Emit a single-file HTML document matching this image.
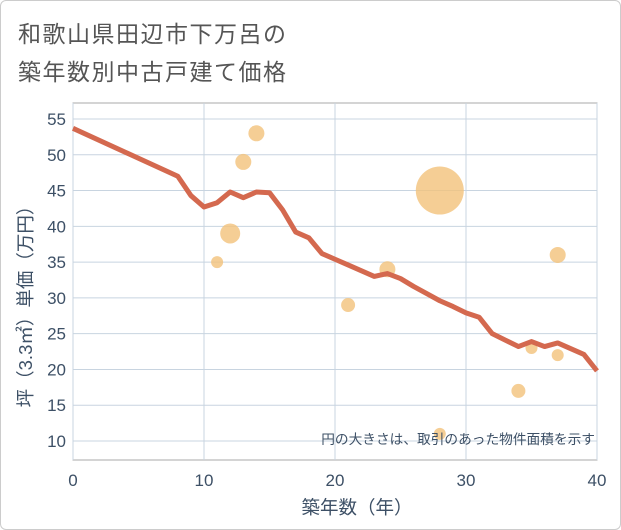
<!DOCTYPE html>
<html><head><meta charset="utf-8"><style>
body{margin:0;background:#fff;font-family:"Liberation Sans","Noto Sans CJK JP",sans-serif;}
#wrap{position:relative;width:619px;height:528px;border:1px solid #ccc;border-radius:6px;background:#fff;}
.t{position:absolute;left:17px;font-size:23px;color:#555;letter-spacing:1.5px}
</style></head><body>
<div id="wrap">
<div class="t" style="top:14px">和歌山県田辺市下万呂の</div>
<div class="t" style="top:52px">築年数別中古戸建て価格</div>
<svg id="c" width="621" height="530" style="position:absolute;left:-1px;top:-1px"></svg>
</div>
<script>
const lineYears=[0,8,9,10,11,12,13,14,15,16,17,18,19,20,21,22,23,24,25,26,27,28,29,30,31,32,33,34,35,36,37,38,39,40];
const linePrices=[53.7,47,44.3,42.7,43.3,44.8,44,44.8,44.7,42.3,39.2,38.4,36.2,35.4,34.6,33.8,33,33.4,32.7,31.6,30.6,29.6,28.8,27.9,27.3,25,24.1,23.2,23.9,23.2,23.7,22.9,22.1,19.8];
const bubbleYears=[11,12,13,14,21,24,28,28,34,35,37,37];
const bubblePrices=[35,39,49,53,29,34,45,11,17,23,36,22];
const bubbleSizes=[6,10,8,8,7,8,24,6,7,6,8,6];
const xTicks=[0,10,20,30,40];
const yTicks=[10,15,20,25,30,35,40,45,50,55];
const X0=73,X1=597,Y0=103,Y1=460;
const sx=v=>X0+(v-0)/40*(X1-X0);
const sy=v=>441-(v-10)*(322/45);
const svg=document.getElementById('c');const NS='http://www.w3.org/2000/svg';
function mk(t,a,p){const e=document.createElementNS(NS,t);for(const k in a)e.setAttribute(k,a[k]);(p||svg).appendChild(e);return e;}
let e=mk('rect',{x:X0,y:Y0,width:X1-X0,height:Y1-Y0,fill:'#fff',stroke:'#aaa'});


yTicks.forEach(v=>{let l=mk('line',{x1:X0,x2:X1,y1:sy(v),y2:sy(v),stroke:'#c8d4e0'});


let t=mk('text',{x:66,y:sy(v)+6,'text-anchor':'end','font-size':17,fill:'#3d5066'});t.textContent=v;

});
xTicks.forEach(v=>{let l=mk('line',{x1:sx(v),x2:sx(v),y1:Y0,y2:Y1,stroke:'#c8d4e0'});


let t=mk('text',{x:sx(v),y:486,'text-anchor':'middle','font-size':17,fill:'#3d5066'});t.textContent=v;

});
bubbleYears.forEach((v,i)=>{let c=mk('circle',{cx:sx(v),cy:sy(bubblePrices[i]),r:bubbleSizes[i],fill:'#f2c27a','fill-opacity':0.8});

});
let p=mk('polyline',{points:lineYears.map((v,i)=>sx(v)+','+sy(linePrices[i])).join(' '),fill:'none',stroke:'#d4694f','stroke-width':5,'stroke-linejoin':'round'});


let n=mk('text',{x:595,y:444,'text-anchor':'end','font-size':13.7,fill:'#3d5066'});n.textContent='円の大きさは、取引のあった物件面積を示す';


let xt=mk('text',{x:357,y:514,'text-anchor':'middle','font-size':18.5,fill:'#3d5066'});xt.textContent='築年数（年）';


let yt=mk('text',{x:0,y:0,'text-anchor':'middle','font-size':18.5,fill:'#3d5066',transform:'translate(32,302) rotate(-90)'});yt.textContent='坪（3.3㎡）単価（万円）';


</script>
</body></html>
